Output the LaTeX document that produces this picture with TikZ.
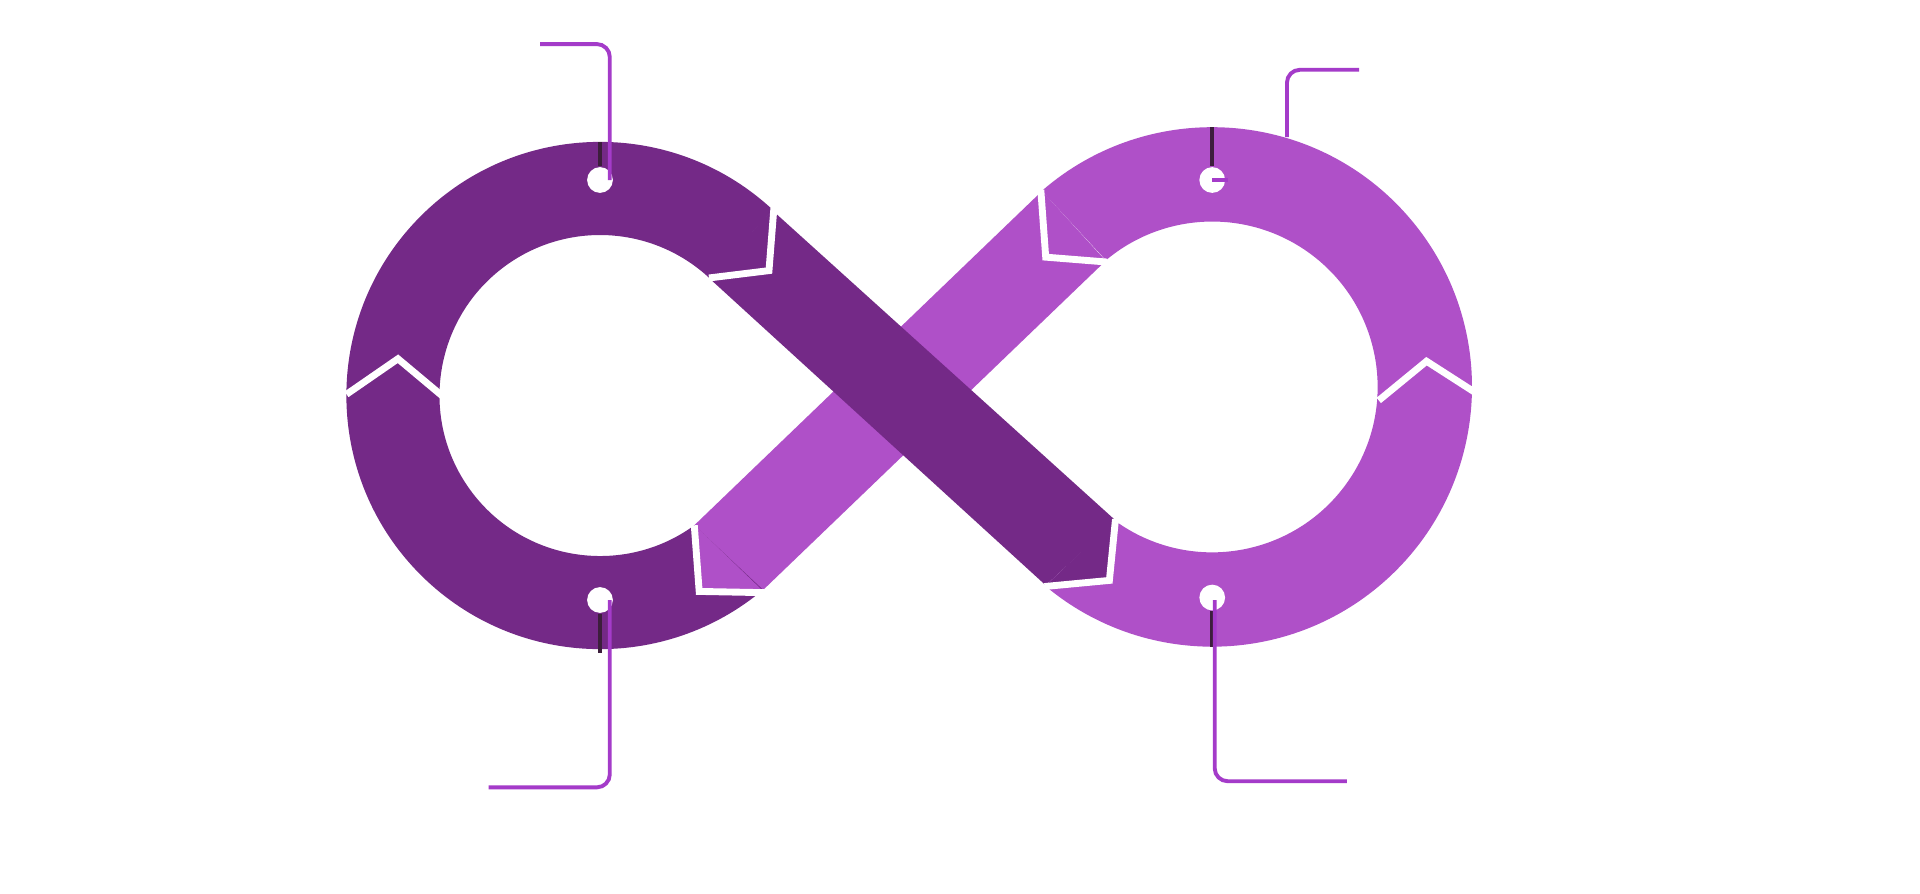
\documentclass[tikz,border=0pt]{standalone}
\begin{document}
\begin{tikzpicture}[x=0.01cm,y=-0.01cm,
  sep/.style={white,line width=1.6pt,line join=miter},
  call/.style={draw={rgb,255:red,164;green,59;blue,201},line width=0.9pt,rounded corners=3},
  stem/.style={draw={rgb,255:red,60;green,30;blue,60},line width=0.9pt}]
\definecolor{dk}{RGB}{116,41,135}
\definecolor{lt}{RGB}{175,80,200}
\useasboundingbox[fill=white] (0,0) rectangle (1568,730);
\coordinate (L) at (490,323);
\coordinate (R) at (990,316);
% light right arc
\fill[lt] ([shift={(131:2.12cm)}]R) arc[start angle=131,end angle=-130,radius=2.12cm]
  -- ([shift={(-126:1.35cm)}]R) arc[start angle=-126,end angle=130,radius=1.35cm] -- cycle;
% light band
\fill[lt] (567,429) -- (623,482) -- (903,213) -- (851,156) -- cycle;
% dark left arc
\fill[dk] ([shift={(47:2.07cm)}]L) arc[start angle=47,end angle=310,radius=2.07cm]
  -- ([shift={(306:1.31cm)}]L) arc[start angle=306,end angle=47,radius=1.31cm] -- cycle;
% dark band
\fill[dk] (579,227) -- (631,172) -- (911,425) -- (854,478) -- cycle;
% notch fills
\filldraw[lt,line width=0.6pt,line join=round] (568,431) -- (571,483) -- (622,483) -- cycle;
\filldraw[dk,line width=0.6pt,line join=round] (910,426) -- (906,474) -- (856,478) -- cycle;
\filldraw[lt,line width=0.6pt,line join=round] (851,158) -- (854,210) -- (901,213) -- cycle;
\filldraw[dk,line width=0.6pt,line join=round] (581,226) -- (628,221) -- (631,173) -- cycle;
% separators
\draw[sep] (283,322) -- (325,293) -- (362,324);
\draw[sep] (1126,327) -- (1165,295) -- (1207,322);
\draw[sep] (579,227) -- (628,221) -- (632,170);
\draw[sep] (567,429) -- (571,483) -- (624,484);
\draw[sep] (850,155) -- (854,210) -- (904,214);
\draw[sep] (911,424) -- (906,474) -- (853,479);
% holes
\foreach \n/\p in {h1/{(490,147)},h2/{(490,490)},h3/{(990,147)},h4/{(990,488)}}
  \node[circle,fill=white,inner sep=0pt,minimum size=0.21cm] (\n) at \p {};
\draw[stem] (490,116) -- (h1.north);
\draw[stem] (h2.south) -- (490,533);
\draw[stem] (990,104) -- (h3.north);
\draw[stem] (h4.south) -- (990,528);
% callouts
\draw[call] (441,36) -- (498,36) -- (498,147);
\draw[call] (1110,57) -- (1051,57) -- (1051,112);
\draw[call] (399,643) -- (498,643) -- (498,490);
\draw[call] (1100,638) -- (992,638) -- (992,490);
\draw[call] (990,147) -- (1003,147);
\end{tikzpicture}
\end{document}
